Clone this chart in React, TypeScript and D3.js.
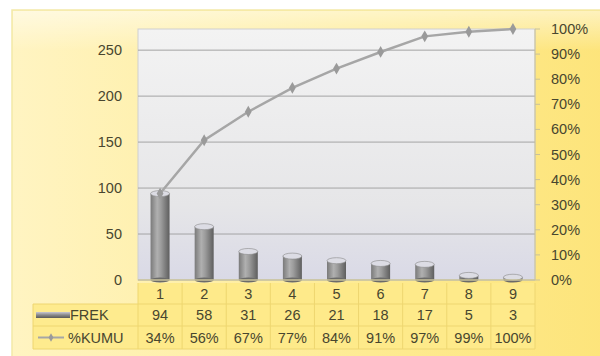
import React, { useEffect, useRef } from 'react';
import * as d3 from 'd3';

const categories = ['1', '2', '3', '4', '5', '6', '7', '8', '9'];
const frek = [94, 58, 31, 26, 21, 18, 17, 5, 3];
const kumuLabels = ['34%', '56%', '67%', '77%', '84%', '91%', '97%', '99%', '100%'];
const leftTicks = [0, 50, 100, 150, 200, 250];
const rightTicks = [0, 0.1, 0.2, 0.3, 0.4, 0.5, 0.6, 0.7, 0.8, 0.9, 1];

export default function App() {
  const svgRef = useRef<SVGSVGElement>(null);

  useEffect(() => {
    if (!svgRef.current) return;
    const svg = d3.select(svgRef.current);
    svg.selectAll('*').remove();

    const W = 600, H = 356;
    const plot = { left: 138, right: 535, top: 29, bottom: 280 };
    const textColor = '#48462f';
    const font = 'Liberation Sans, Arial, sans-serif';
    const fs = 14.5;
    const total = d3.sum(frek);

    // cumulative share, computed from the counts
    let run = 0;
    const cumShare = frek.map(v => (run += v) / total);

    const defs = svg.append('defs');
    const bg = defs.append('linearGradient').attr('id', 'bg').attr('x1', 0).attr('x2', 1).attr('y1', 0).attr('y2', 0);
    bg.append('stop').attr('offset', '0%').attr('stop-color', '#fff4c2');
    bg.append('stop').attr('offset', '60%').attr('stop-color', '#feeb92');
    bg.append('stop').attr('offset', '100%').attr('stop-color', '#fde47a');

    const topFade = defs.append('linearGradient').attr('id', 'topfade').attr('x1', 0).attr('x2', 0).attr('y1', 0).attr('y2', 1);
    topFade.append('stop').attr('offset', '0%').attr('stop-color', '#ffffff').attr('stop-opacity', 0.5);
    topFade.append('stop').attr('offset', '100%').attr('stop-color', '#ffffff').attr('stop-opacity', 0);

    const plotBg = defs.append('linearGradient').attr('id', 'plotbg').attr('x1', 0).attr('x2', 0).attr('y1', 0).attr('y2', 1);
    plotBg.append('stop').attr('offset', '0%').attr('stop-color', '#f3f3f3');
    plotBg.append('stop').attr('offset', '70%').attr('stop-color', '#e6e6e8');
    plotBg.append('stop').attr('offset', '100%').attr('stop-color', '#d9d9e6');

    const cyl = defs.append('linearGradient').attr('id', 'cyl').attr('x1', 0).attr('x2', 1).attr('y1', 0).attr('y2', 0);
    cyl.append('stop').attr('offset', '0%').attr('stop-color', '#7a7a7a');
    cyl.append('stop').attr('offset', '35%').attr('stop-color', '#b0b0b0');
    cyl.append('stop').attr('offset', '55%').attr('stop-color', '#9c9c9c');
    cyl.append('stop').attr('offset', '100%').attr('stop-color', '#5e5e5e');

    // background
    svg.append('rect').attr('width', W).attr('height', H).attr('fill', '#ffffff');
    svg.append('rect').attr('x', 12).attr('y', 10).attr('width', W).attr('height', H - 8)
      .attr('fill', 'url(#bg)').attr('stroke', '#f3e9a8').attr('stroke-width', 1.5);
    svg.append('rect').attr('x', 13).attr('y', 11).attr('width', W).attr('height', 40)
      .attr('fill', 'url(#topfade)');

    const x = d3.scaleBand().domain(categories).range([plot.left, plot.right]);
    const yL = d3.scaleLinear().domain([0, total]).range([plot.bottom, plot.top]);
    const yR = d3.scaleLinear().domain([0, 1]).range([plot.bottom, plot.top]);

    svg.append('rect').attr('x', plot.left).attr('y', plot.top)
      .attr('width', plot.right - plot.left).attr('height', plot.bottom - plot.top)
      .attr('fill', 'url(#plotbg)').attr('stroke', '#d0d0d0');

    // gridlines
    svg.append('g').selectAll('line').data(leftTicks.filter(t => t > 0)).join('line')
      .attr('x1', plot.left).attr('x2', plot.right)
      .attr('y1', d => yL(d)).attr('y2', d => yL(d))
      .attr('stroke', '#a4a4a4').attr('stroke-width', 1);

    // left axis labels
    svg.append('g').selectAll('text').data(leftTicks).join('text')
      .attr('x', 122).attr('y', d => yL(d)).attr('dy', '0.35em')
      .attr('text-anchor', 'end').attr('font-family', font).attr('font-size', fs)
      .attr('fill', textColor).text(d => d);

    // right axis
    svg.append('line').attr('x1', plot.right).attr('x2', plot.right)
      .attr('y1', plot.top).attr('y2', plot.bottom).attr('stroke', '#c9c29a');
    svg.append('g').selectAll('line').data(rightTicks).join('line')
      .attr('x1', plot.right).attr('x2', plot.right + 5)
      .attr('y1', d => yR(d)).attr('y2', d => yR(d)).attr('stroke', '#c9c29a');
    svg.append('g').selectAll('text').data(rightTicks).join('text')
      .attr('x', 551).attr('y', d => yR(d)).attr('dy', '0.35em')
      .attr('font-family', font).attr('font-size', fs)
      .attr('fill', textColor).text(d => d3.format('.0%')(d));

    // cylinder bars
    const bw = 19;
    const bars = svg.append('g').selectAll('g').data(frek).join('g')
      .attr('transform', (_, i) => `translate(${x(categories[i])! + x.bandwidth() / 2},0)`);
    bars.append('rect')
      .attr('x', -bw / 2).attr('y', d => yL(d)).attr('width', bw)
      .attr('height', d => plot.bottom - yL(d)).attr('fill', 'url(#cyl)');
    bars.append('ellipse').attr('cx', 0).attr('cy', plot.bottom).attr('rx', bw / 2).attr('ry', 2.5)
      .attr('fill', '#6a6a6a');
    bars.append('ellipse').attr('cx', 0).attr('cy', d => yL(d)).attr('rx', bw / 2).attr('ry', 3)
      .attr('fill', '#dcdce4').attr('stroke', '#8a8a8a').attr('stroke-width', 0.6);

    // cumulative line
    const line = d3.line<number>()
      .x((_, i) => x(categories[i])! + x.bandwidth() / 2)
      .y(d => yR(d));
    svg.append('path').datum(cumShare).attr('d', line)
      .attr('fill', 'none').attr('stroke', '#a6a6a6').attr('stroke-width', 2.5);
    const diamond = d3.symbol().type(d3.symbolDiamond).size(40);
    svg.append('g').selectAll('path').data(cumShare).join('path')
      .attr('d', diamond)
      .attr('transform', (d, i) => `translate(${x(categories[i])! + x.bandwidth() / 2},${yR(d)})`)
      .attr('fill', '#9a9a9a');

    // x axis baseline
    svg.append('line').attr('x1', plot.left).attr('x2', plot.right)
      .attr('y1', plot.bottom).attr('y2', plot.bottom).attr('stroke', '#c9c29a').attr('stroke-width', 1.5);

    // data table
    const rows = [283, 304, 326, 349];
    const tableLeft = 33;
    const gridColor = '#eed670';
    const tg = svg.append('g');
    tg.append('rect').attr('x', tableLeft).attr('y', rows[1])
      .attr('width', plot.left - tableLeft).attr('height', rows[3] - rows[1]).attr('fill', '#feeb8e');
    tg.append('rect').attr('x', plot.left).attr('y', rows[0])
      .attr('width', plot.right - plot.left).attr('height', rows[3] - rows[0]).attr('fill', '#feea8a');
    [rows[1], rows[2], rows[3]].forEach(r => {
      tg.append('line').attr('x1', tableLeft).attr('x2', plot.right).attr('y1', r).attr('y2', r)
        .attr('stroke', gridColor);
    });
    tg.append('line').attr('x1', tableLeft).attr('x2', tableLeft).attr('y1', rows[1]).attr('y2', rows[3])
      .attr('stroke', gridColor);
    const colEdges = categories.map(c => x(c)!).concat([plot.right]);
    tg.selectAll('line.col').data(colEdges).join('line').attr('class', 'col')
      .attr('x1', d => d).attr('x2', d => d).attr('y1', rows[0]).attr('y2', rows[3])
      .attr('stroke', gridColor);

    const rowTexts = [categories, frek.map(String), kumuLabels];
    rowTexts.forEach((vals, r) => {
      tg.append('g').selectAll('text').data(vals).join('text')
        .attr('x', (_, i) => x(categories[i])! + x.bandwidth() / 2)
        .attr('y', (rows[r] + rows[r + 1]) / 2).attr('dy', '0.35em')
        .attr('text-anchor', 'middle').attr('font-family', font).attr('font-size', fs)
        .attr('fill', textColor).text(d => d);
    });

    // legend keys in table
    const ky1 = (rows[1] + rows[2]) / 2;
    const ky2 = (rows[2] + rows[3]) / 2;
    const keyGrad = defs.append('linearGradient').attr('id', 'keyg').attr('x1', 0).attr('x2', 0).attr('y1', 0).attr('y2', 1);
    keyGrad.append('stop').attr('offset', '0%').attr('stop-color', '#c8c8d2');
    keyGrad.append('stop').attr('offset', '50%').attr('stop-color', '#8a8a8a');
    keyGrad.append('stop').attr('offset', '100%').attr('stop-color', '#5a5a5a');
    tg.append('rect').attr('x', 36).attr('y', ky1 - 3).attr('width', 34).attr('height', 6)
      .attr('fill', 'url(#keyg)');
    tg.append('text').attr('x', 70).attr('y', ky1).attr('dy', '0.35em')
      .attr('font-family', font).attr('font-size', fs).attr('fill', textColor).text('FREK');
    tg.append('line').attr('x1', 38).attr('x2', 64).attr('y1', ky2).attr('y2', ky2)
      .attr('stroke', '#a6a6a6').attr('stroke-width', 2);
    tg.append('path').attr('d', d3.symbol().type(d3.symbolDiamond).size(20)())
      .attr('transform', `translate(51,${ky2})`).attr('fill', '#9a9a9a');
    tg.append('text').attr('x', 68).attr('y', ky2).attr('dy', '0.35em')
      .attr('font-family', font).attr('font-size', fs).attr('fill', textColor).text('%KUMU');
  }, []);

  return (
    <svg ref={svgRef} width={600} height={356}
      style={{ position: 'absolute', left: 0, top: 0, display: 'block' }} />
  );
}
